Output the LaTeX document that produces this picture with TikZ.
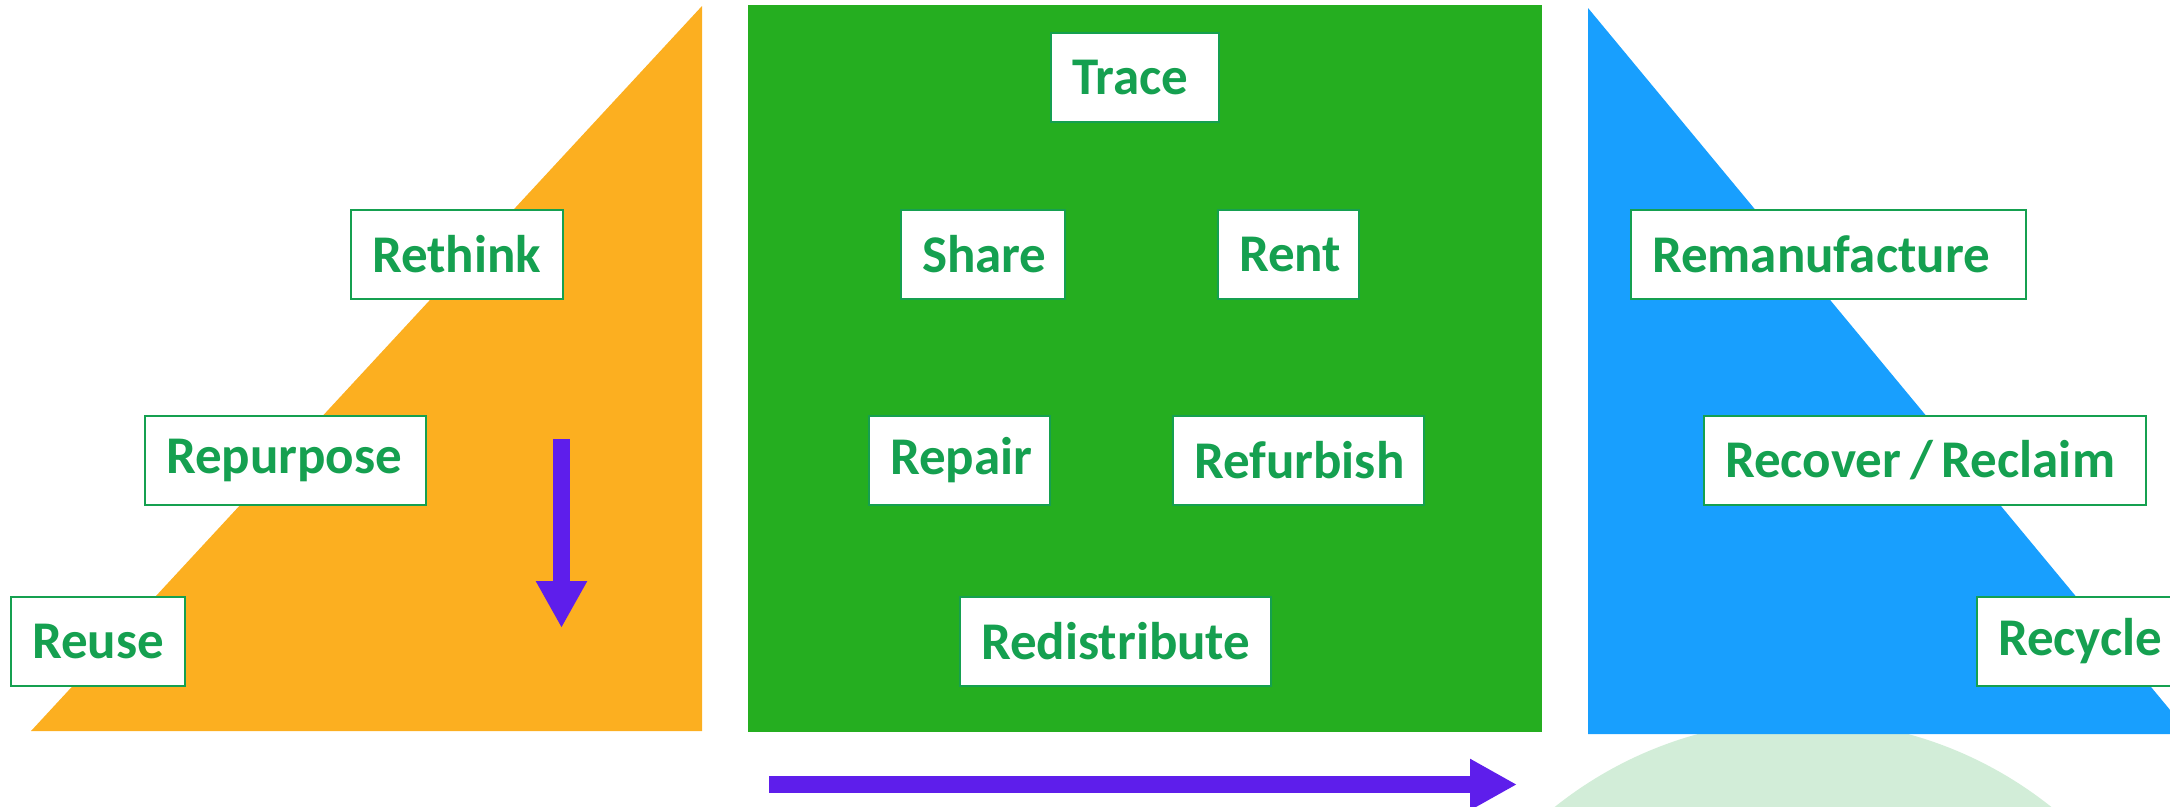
\documentclass[tikz,border=0pt]{standalone}
\usepackage{fontspec}
\setmainfont{Carlito}
\usetikzlibrary{arrows.meta, positioning}

\definecolor{rorange}{RGB}{252,175,32}
\definecolor{rgreen}{RGB}{37,174,32}
\definecolor{rblue}{RGB}{24,159,254}
\definecolor{rpurple}{RGB}{94,30,235}
\definecolor{rmint}{RGB}{210,237,216}
\definecolor{rtext}{RGB}{21,160,80}

\begin{document}
\begin{tikzpicture}[x=1pt, y=-1pt, node distance = 0pt and 151pt]
      \tikzstyle{tag} = [draw = rtext, line width = 2pt, fill = white, text = rtext,
        font = \fontsize{53}{60}\selectfont\bfseries, align = left,
        minimum height = 89pt, inner xsep = 21pt, inner ysep = 0pt]
      \tikzstyle{flow} = [rpurple, line width = 17pt, -{Triangle[length = 47pt, width = 48pt]}]
      \useasboundingbox (0,0) rectangle (2170,806);
      \clip (0,0) rectangle (2170,806);
      % background shapes
      \fill[rmint] (1803,1118) circle (398);
      \fill[rorange] (31,731) -- (702,6) -- (702,731) -- cycle;
      \fill[rgreen] (748,5) rectangle (1542,732);
      \fill[rblue] (1588,8) -- (2190,734) -- (1588,734) -- cycle;
      % arrows
      \coordinate (down top) at (561.5,439);
      \coordinate (down tip) at (561.5,628);
      \coordinate (flow start) at (769,784.5);
      \coordinate (flow tip) at (1517,784.5);
      \draw[flow] (down top) -- (down tip);
      \draw[flow] (flow start) -- (flow tip);
      % left
      \node[tag, anchor = north west, text width = 170pt] (rethink) at (350,209) {Rethink};
      \node[tag, anchor = north west, text width = 239pt] (repurpose) at (144,415) {Repurpose};
      \node[tag, anchor = north west, text width = 132pt] (reuse) at (10,596) {Reuse};
      % middle
      \node[tag, anchor = north west, text width = 126pt] (trace) at (1050,32) {Trace};
      \node[tag, anchor = north west, text width = 122pt] (share) at (900,209) {Share};
      \node[tag, right = of share, text width = 99pt] (rent) {Rent};
      \node[tag, anchor = north west, text width = 139pt] (repair) at (868,415) {Repair};
      \node[tag, right = 121pt of repair, text width = 209pt] (refurbish) {Refurbish};
      \node[tag, anchor = north west, text width = 269pt] (redistribute) at (959,596) {Redistribute};
      % right
      \node[tag, anchor = north west, text width = 353pt] (remanufacture) at (1630,209) {Remanufacture};
      \node[tag, anchor = north west, text width = 400pt] (recover) at (1703,415)
        {\mbox{Recover\hspace{0.17em}/\hspace{0.17em}Reclaim}};
      \node[tag, anchor = north west, text width = 170pt] (recycle) at (1976,596) {Recycle};
    \end{tikzpicture}
\end{document}
